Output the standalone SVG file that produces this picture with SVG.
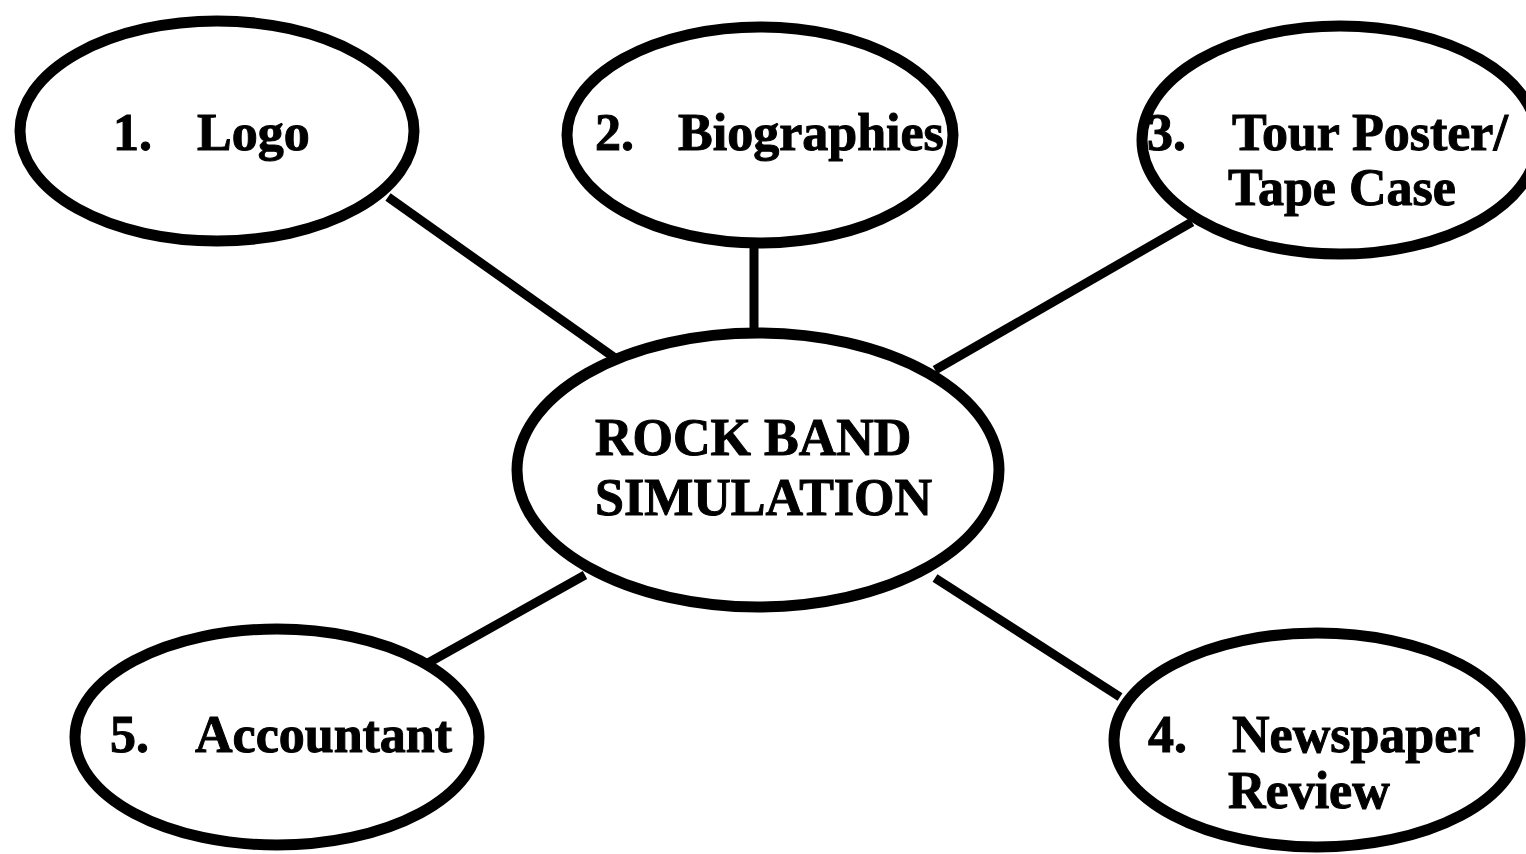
<svg xmlns="http://www.w3.org/2000/svg" width="1526" height="854" viewBox="0 0 1526 854">
<style>
.node ellipse{fill:#fff;stroke:#000;stroke-width:11}
.conn line{stroke:#000;stroke-width:9;stroke-linecap:butt}
text{font-family:"Liberation Serif","Times New Roman",serif;font-weight:bold;font-size:52px;fill:#000;stroke:#000;stroke-width:1}
</style>
<rect width="1526" height="854" fill="#fff"/>
<g id="connectors" class="conn">
<line x1="388" y1="197" x2="615" y2="358"/>
<line x1="754" y1="243" x2="754" y2="334"/>
<line x1="1192" y1="222" x2="935" y2="370"/>
<line x1="585" y1="575" x2="428" y2="663"/>
<line x1="935" y1="578" x2="1120" y2="697"/>
</g>
<g id="center" class="node">
<ellipse cx="758" cy="470" rx="241" ry="137"/>
<text x="595" y="455">ROCK BAND</text>
<text x="595" y="515">SIMULATION</text>
</g>
<g id="n1" class="node">
<ellipse cx="217" cy="131" rx="197" ry="110"/>
<text y="150"><tspan x="113">1.</tspan><tspan x="197">Logo</tspan></text>
</g>
<g id="n2" class="node">
<ellipse cx="760" cy="135" rx="193" ry="108"/>
<text y="150"><tspan x="595">2.</tspan><tspan x="678">Biographies</tspan></text>
</g>
<g id="n3" class="node">
<ellipse cx="1340" cy="140" rx="198" ry="114"/>
<text y="150"><tspan x="1147">3.</tspan><tspan x="1232">Tour Poster/</tspan></text>
<text x="1228" y="205">Tape Case</text>
</g>
<g id="n5" class="node">
<ellipse cx="277" cy="737" rx="202" ry="108"/>
<text y="752"><tspan x="110">5.</tspan><tspan x="195">Accountant</tspan></text>
</g>
<g id="n4" class="node">
<ellipse cx="1317" cy="740" rx="203" ry="107"/>
<text y="752"><tspan x="1148">4.</tspan><tspan x="1232">Newspaper</tspan></text>
<text x="1228" y="808">Review</text>
</g>
</svg>
